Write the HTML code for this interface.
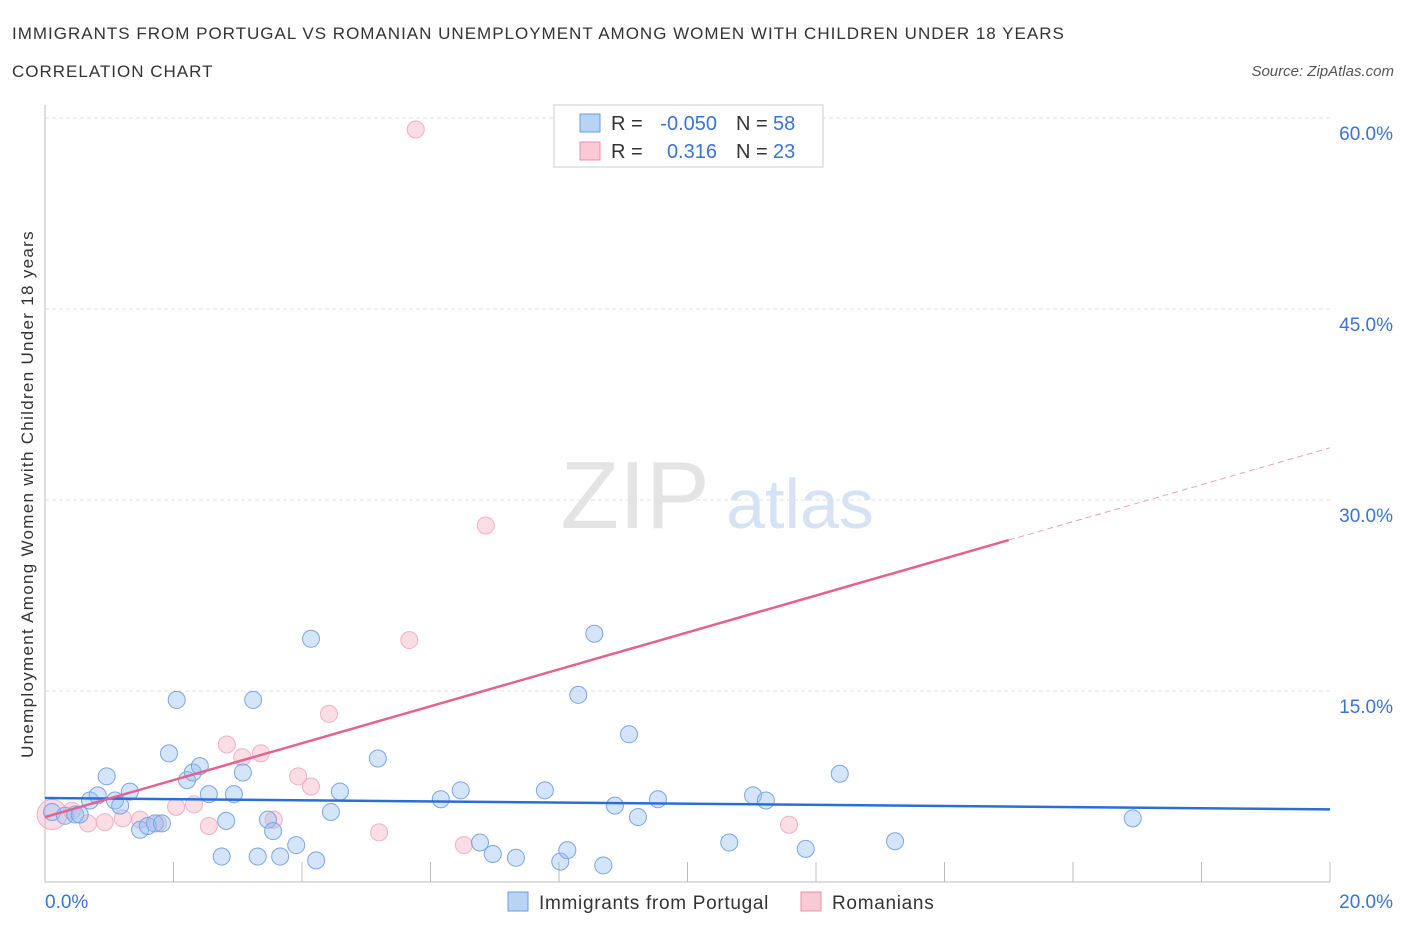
<!DOCTYPE html>
<html><head><meta charset="utf-8"><style>
body{margin:0;background:#fff;font-family:"Liberation Sans",sans-serif;}
svg text{font-family:"Liberation Sans",sans-serif;}
</style></head><body>
<svg id="chart" width="1406" height="930">
<text x="12" y="39" font-size="17" letter-spacing="1" fill="#333">IMMIGRANTS FROM PORTUGAL VS ROMANIAN UNEMPLOYMENT AMONG WOMEN WITH CHILDREN UNDER 18 YEARS</text>
<text x="12" y="77" font-size="17" letter-spacing="1" fill="#333">CORRELATION CHART</text>
<text x="1394" y="76" font-size="15" fill="#555" font-style="italic" text-anchor="end">Source: ZipAtlas.com</text>
<text x="635" y="528" font-size="96" fill="#e4e4e4" font-family="Liberation Serif" text-anchor="middle">ZIP</text>
<text x="800" y="528" font-size="70" fill="#d6e3f5" text-anchor="middle">atlas</text>
<text transform="translate(33,494) rotate(-90)" font-size="17" letter-spacing="1.3" fill="#333" text-anchor="middle">Unemployment Among Women with Children Under 18 years</text>
<g id="grid"></g><g id="axes"></g><g id="marks"></g>
<g>
<rect x="554" y="105" width="269" height="62" fill="#fff" stroke="#ccc"/>
<rect x="580" y="114" width="20" height="18" fill="#b9d3f5" stroke="#6a9be0"/>
<rect x="580" y="142" width="20" height="18" fill="#f9c9d6" stroke="#e890aa"/>
<text x="611" y="130" font-size="20" fill="#333">R =</text>
<text x="717" y="130" font-size="20" fill="#3a72d8" text-anchor="end">-0.050</text>
<text x="736" y="130" font-size="20" fill="#333">N =</text>
<text x="773" y="130" font-size="20" fill="#3a72d8">58</text>
<text x="611" y="158" font-size="20" fill="#333">R =</text>
<text x="717" y="158" font-size="20" fill="#3a72d8" text-anchor="end">0.316</text>
<text x="736" y="158" font-size="20" fill="#333">N =</text>
<text x="773" y="158" font-size="20" fill="#3a72d8">23</text>
</g>
<g>
<rect x="508" y="892" width="20" height="19" fill="#b9d3f5" stroke="#6a9be0"/>
<text x="539" y="909" font-size="19" letter-spacing="0.7" fill="#333">Immigrants from Portugal</text>
<rect x="801" y="892" width="20" height="19" fill="#f9c9d6" stroke="#e890aa"/>
<text x="832" y="909" font-size="19" letter-spacing="0.7" fill="#333">Romanians</text>
</g>
</svg>
<script>
const yTicks=[15,30,45,60];
const yTickLabels=["15.0%","30.0%","45.0%","60.0%"];
const xTickVals=[2,4,6,8,10,12,14,16,18,20];
const blueX=[0.11,0.31,0.47,0.54,0.7,0.82,0.96,1.09,1.17,1.32,1.48,1.6,1.71,1.82,1.93,2.05,2.21,2.3,2.41,2.55,2.75,2.82,2.94,3.08,3.24,3.31,3.47,3.55,3.66,3.91,4.14,4.22,4.45,4.59,5.18,6.16,6.47,6.77,6.97,7.33,7.78,8.02,8.13,8.3,8.55,8.69,8.87,9.09,9.23,9.54,10.65,11.02,11.22,11.84,12.37,13.23,16.93];
const blueY=[5.5,5.2,5.3,5.3,6.4,6.8,8.3,6.4,6.0,7.1,4.1,4.4,4.6,4.6,10.1,14.3,8.0,8.6,9.1,6.9,2.0,4.8,6.9,8.6,14.3,2.0,4.9,4.0,2.0,2.9,19.1,1.7,5.5,7.1,9.7,6.5,7.2,3.1,2.2,1.9,7.2,1.6,2.5,14.7,19.5,1.3,6.0,11.6,5.1,6.5,3.1,6.8,6.4,2.6,8.5,3.2,5.0];
const pinkX=[0.11,0.42,0.67,0.93,1.21,1.48,1.76,2.04,2.32,2.55,2.83,3.07,3.36,3.56,3.94,4.14,4.42,5.2,5.67,5.77,6.52,6.86,11.58];
const pinkY=[5.3,5.6,4.6,4.7,5.0,4.9,4.6,5.9,6.1,4.4,10.8,9.8,10.1,4.9,8.3,7.5,13.2,3.9,19.0,59.1,2.9,28.0,4.5];
const blueLine=[6.6,5.7];
const pinkLine=[5.1,34.1];
const pinkSolidEnd=15;
const X=v=>45+v/20*1285, Y=v=>882-v*191/15;
const NS="http://www.w3.org/2000/svg";
function mk(p,t,a){const e=document.createElementNS(NS,t);for(const k in a)e.setAttribute(k,a[k]);p.appendChild(e);return e;}
const grid=document.getElementById('grid'),axes=document.getElementById('axes'),marks=document.getElementById('marks');
yTicks.forEach((t,i)=>{
 const l=mk(grid,'line',{x1:45,x2:1330,y1:Y(t),y2:Y(t),stroke:'#e2e2e2','stroke-dasharray':'4,3'});
 
 
 const tx=mk(axes,'text',{x:1393,y:Y(t)+22,'font-size':19,fill:'#3a72d8','text-anchor':'end'});tx.textContent=yTickLabels[i];
 
 
});
const xa=mk(axes,'line',{x1:45,x2:1330,y1:882,y2:882,stroke:'#bbb'});


const ya=mk(axes,'line',{x1:45,x2:45,y1:105,y2:882,stroke:'#bbb'});


xTickVals.forEach(v=>{const t=mk(axes,'line',{x1:X(v),x2:X(v),y1:862,y2:882,stroke:'#bbb'});
 
 });
[[0,"0.0%",'start',45],[20,"20.0%",'end',1393]].forEach(a=>{const t=mk(axes,'text',{x:a[3],y:908,'font-size':19,fill:'#3a72d8','text-anchor':a[2]});t.textContent=a[1];
 
 });
pinkX.forEach((x,i)=>{const c=mk(marks,'circle',{cx:X(x),cy:Y(pinkY[i]),r:i===0?15:8.5,fill:'rgba(246,170,192,0.4)',stroke:'#f0b0c4','stroke-width':1});
 
 });
blueX.forEach((x,i)=>{const c=mk(marks,'circle',{cx:X(x),cy:Y(blueY[i]),r:8.5,fill:'rgba(150,190,240,0.4)',stroke:'#7aa6e4','stroke-width':1});
 
 });
const bl=mk(marks,'line',{x1:X(0),y1:Y(blueLine[0]),x2:X(20),y2:Y(blueLine[1]),stroke:'#2a6fd6','stroke-width':2.5});


const pv=x=>pinkLine[0]+(pinkLine[1]-pinkLine[0])*x/20;
const pl=mk(marks,'line',{x1:X(0),y1:Y(pv(0)),x2:X(pinkSolidEnd),y2:Y(pv(pinkSolidEnd)),stroke:'#e5618f','stroke-width':2.5});


const pd=mk(marks,'line',{x1:X(pinkSolidEnd),y1:Y(pv(pinkSolidEnd)),x2:X(20),y2:Y(pv(20)),stroke:'#eba0b6','stroke-width':1,'stroke-dasharray':'6,4'});


</script>
</body></html>
